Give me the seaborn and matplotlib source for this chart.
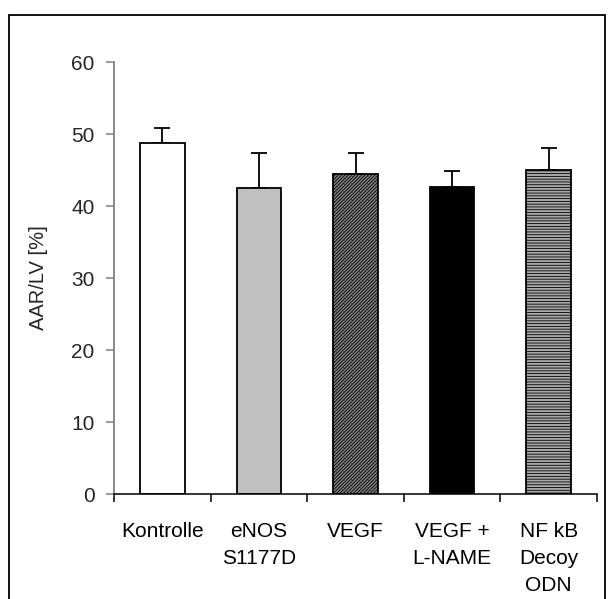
import pandas as pd
import seaborn as sns
from matplotlib import pyplot as plt
from matplotlib.patches import Rectangle
from matplotlib.ticker import FixedLocator

# Werte
groups = ['Kontrolle', 'eNOS\nS1177D', 'VEGF', 'VEGF +\nL-NAME', 'NF kB\nDecoy\nODN']
means = [48.7, 42.5, 44.5, 42.6, 45.0]
errors = [2.1, 4.8, 2.8, 2.3, 3.1]
colors = ['#ffffff', '#c0c0c0', '#808080', '#000000', '#a8a8a8']
hatches = ['', '', '//////////', '', '------']

sns.set_style('white')
plt.rcParams['font.family'] = ['Liberation Sans', 'DejaVu Sans']
plt.rcParams['hatch.linewidth'] = 0.6

df = pd.DataFrame({'group': groups, 'value': means})

fig = plt.figure(figsize=(6.15, 5.99), dpi=100)
ax = fig.add_axes([114 / 615, 1 - 494 / 599, 483 / 615, 432 / 599])

sns.barplot(data=df, x='group', y='value', hue='group', palette=colors, legend=False,
            edgecolor='black', linewidth=1.3, width=0.46, ax=ax)

# Schraffuren
for patch, h in zip(ax.patches, hatches):
    if h:
        patch.set_hatch(h)

# Fehlerbalken nur nach oben
xs = ax.get_xticks()
ax.errorbar(xs, means, yerr=[[0] * len(errors), errors], fmt='none', ecolor='black',
            elinewidth=1.3, capsize=5.5, capthick=1.3, zorder=1)
for p in ax.patches:
    p.set_zorder(2)

ax.set_ylim(0, 60)
ax.set_xlim(-0.5, 4.5)
ax.set_yticks(range(0, 61, 10))
ax.set_xticks(xs)
ax.set_xticklabels(groups, linespacing=1.55)
ax.xaxis.set_minor_locator(FixedLocator([i - 0.5 for i in range(len(groups) + 1)]))

ax.tick_params(axis='x', which='major', length=0, pad=20, labelsize=15, colors='black')
ax.tick_params(axis='x', which='minor', length=6, width=1.1, direction='out', color='black', bottom=True)
ax.tick_params(axis='y', length=6, width=1.1, direction='out', color='#808080', pad=8,
               labelsize=15, left=True)

for s in ['top', 'right']:
    ax.spines[s].set_visible(False)
ax.spines['left'].set_color('#808080')
ax.spines['left'].set_linewidth(1.3)
ax.spines['bottom'].set_color('black')
ax.spines['bottom'].set_linewidth(1.1)

ax.set_xlabel('')
ax.set_ylabel('AAR/LV [%]', fontsize=14.5, labelpad=17)

# äußerer Rahmen
fig.patches.append(Rectangle((9 / 615, -0.02), (605 - 9) / 615, 1.02 - 15 / 599,
                             transform=fig.transFigure, fill=False, edgecolor='black',
                             linewidth=1.3))

fig.savefig('out.png', dpi=100)
